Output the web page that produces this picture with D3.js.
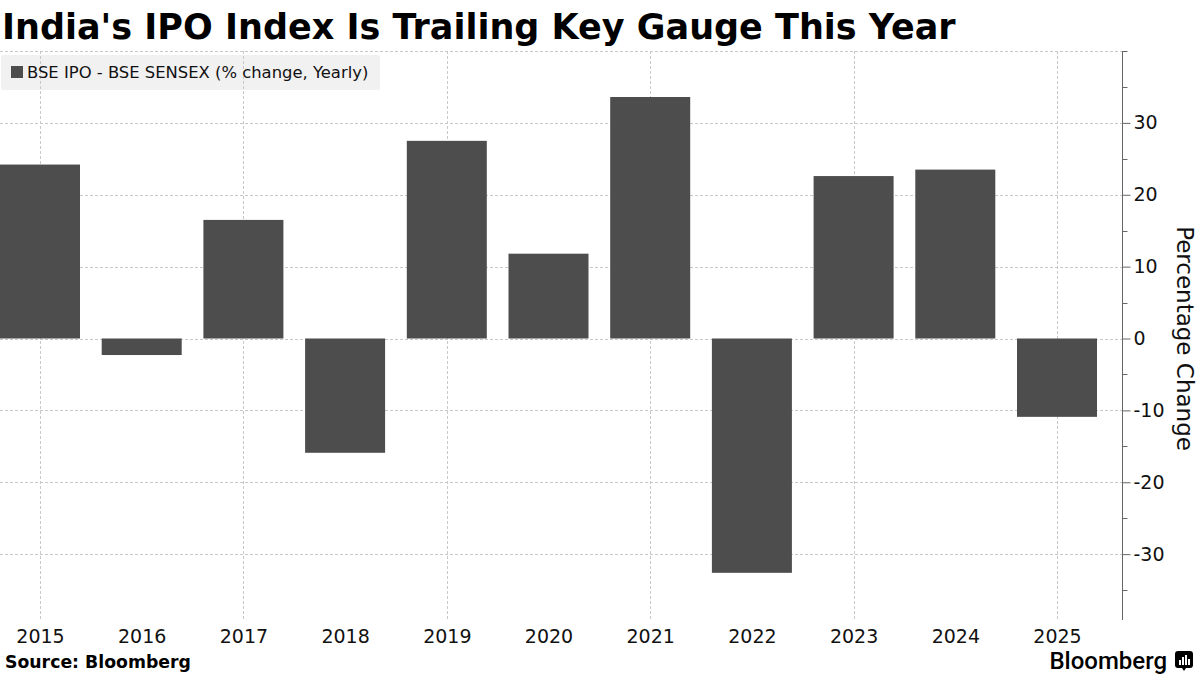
<!DOCTYPE html>
<html>
<head>
<meta charset="utf-8">
<script src="https://cdn.jsdelivr.net/npm/d3@7"></script>
<style>
  body { margin: 0; background: #fff; }
  svg { display: block; }
</style>
</head>
<body>
<div id="chart-area"></div>
<script>
/*
*    IPO index vs Sensex, yearly
*/

var years = ["2015", "2016", "2017", "2018", "2019", "2020", "2021", "2022", "2023", "2024", "2025"];
var values = [24.2, -2.3, 16.5, -15.9, 27.5, 11.8, 33.6, -32.6, 22.6, 23.5, -10.9];
var yTicks = [-30, -20, -10, 0, 10, 20, 30];
var gridTicks = [-30, -20, -10, 0, 10, 20, 30, 40];
var minorTicks = [-35, -25, -15, -5, 5, 15, 25, 35, 40];
var gridYears = ["2015", "2017", "2019", "2021", "2023", "2025"];

var W = 1200, H = 675;
var barColor = "#4d4d4d";
var font = "'DejaVu Sans', Verdana, sans-serif";

var svg = d3.select("#chart-area").append("svg")
    .attr("width", W)
    .attr("height", H);

var x = d3.scalePoint()
    .domain(years)
    .range([40, 1057]);

var y = d3.scaleLinear()
    .domain([-40, 40])
    .range([626, 51]);

var barW = 80;
var axisX = 1122;
var plotBottom = 620;

// title
svg.append("text")
    .attr("x", 2)
    .attr("y", 39)
    .attr("font-family", font)
    .attr("font-weight", "bold")
    .attr("font-size", "35px")
    .attr("fill", "#000")
    .text("India's IPO Index Is Trailing Key Gauge This Year");

// legend background (under grid)
svg.append("rect")
    .attr("x", 1)
    .attr("y", 55)
    .attr("width", 379)
    .attr("height", 35)
    .attr("rx", 2)
    .attr("fill", "#f1f1f1");

// horizontal grid
svg.append("g")
    .selectAll("line")
    .data(gridTicks)
    .enter()
    .append("line")
        .attr("x1", 0)
        .attr("x2", axisX)
        .attr("y1", (d)=>{return Math.round(y(d)) + 0.5;})
        .attr("y2", (d)=>{return Math.round(y(d)) + 0.5;})
        .attr("stroke", "#c8c8c8")
        .attr("stroke-width", 1)
        .attr("stroke-dasharray", "3,2");

// vertical grid
svg.append("g")
    .selectAll("line")
    .data(gridYears)
    .enter()
    .append("line")
        .attr("x1", (d)=>{return Math.round(x(d)) + 0.5;})
        .attr("x2", (d)=>{return Math.round(x(d)) + 0.5;})
        .attr("y1", y(40))
        .attr("y2", plotBottom)
        .attr("stroke", "#c8c8c8")
        .attr("stroke-width", 1)
        .attr("stroke-dasharray", "3,2");

// bars
svg.append("g")
    .selectAll("rect")
    .data(values)
    .enter()
    .append("rect")
        .attr("x", (d, i)=>{return x(years[i]) - barW / 2;})
        .attr("y", (d)=>{return y(Math.max(0, d));})
        .attr("width", barW)
        .attr("height", (d)=>{return Math.abs(y(d) - y(0));})
        .attr("fill", barColor);

// legend
svg.append("rect")
    .attr("x", 11)
    .attr("y", 66)
    .attr("width", 12)
    .attr("height", 12)
    .attr("fill", barColor);

svg.append("text")
    .attr("x", 27)
    .attr("y", 78)
    .attr("font-family", font)
    .attr("font-size", "16.4px")
    .attr("fill", "#111")
    .text("BSE IPO - BSE SENSEX (% change, Yearly)");

// right axis
var right = d3.axisRight(y)
    .tickValues(yTicks)
    .tickSize(8)
    .tickPadding(3)
    .tickFormat((d)=>{return d < 0 ? "-" + Math.abs(d) : "" + d;});

var axisG = svg.append("g")
    .attr("class", "right axis")
    .attr("transform", "translate(" + (axisX + 0.5) + ",0)")
    .call(right);

axisG.select(".domain")
    .attr("d", "M0," + y(40) + "V" + plotBottom)
    .attr("stroke", "#666");
axisG.selectAll(".tick line").attr("stroke", "#666");
axisG.selectAll("text")
    .attr("font-family", font)
    .attr("font-size", "19px")
    .attr("fill", "#111");

axisG.selectAll(".minor")
    .data(minorTicks)
    .enter()
    .append("line")
        .attr("class", "minor")
        .attr("x1", 0)
        .attr("x2", 5)
        .attr("y1", (d)=>{return Math.round(y(d)) + 0.5;})
        .attr("y2", (d)=>{return Math.round(y(d)) + 0.5;})
        .attr("stroke", "#666");

svg.append("text")
    .attr("transform", "translate(1177," + y(0) + ") rotate(90)")
    .attr("text-anchor", "middle")
    .attr("font-family", font)
    .attr("font-size", "23px")
    .attr("fill", "#111")
    .text("Percentage Change");

// bottom labels
var bottom = d3.axisBottom(x)
    .tickSize(0)
    .tickPadding(0);

var bottomG = svg.append("g")
    .attr("class", "bottom axis")
    .attr("transform", "translate(0,626)")
    .call(bottom);

bottomG.select(".domain").remove();
bottomG.selectAll("text")
    .attr("dy", "0")
    .attr("y", 17)
    .attr("font-family", font)
    .attr("font-size", "19px")
    .attr("fill", "#111");

// footer
svg.append("text")
    .attr("x", 5)
    .attr("y", 668)
    .attr("font-family", font)
    .attr("font-weight", "bold")
    .attr("font-size", "17.3px")
    .attr("fill", "#000")
    .text("Source: Bloomberg");

svg.append("text")
    .attr("x", 1167)
    .attr("y", 669)
    .attr("text-anchor", "end")
    .attr("font-family", "Roboto, 'Noto Sans', sans-serif")
    .attr("font-weight", 500)
    .attr("font-size", "24px")
    .attr("fill", "#000")
    .text("Bloomberg");

var logo = svg.append("g")
    .attr("transform", "translate(1175,651)");
logo.append("path")
    .attr("d", "M3,0H15Q18,0 18,3V14Q18,17 15,17H11L9,20L7,17H3Q0,17 0,14V3Q0,0 3,0Z")
    .attr("fill", "#000");
[[4, 9, 2, 5], [7, 6, 2, 8], [10, 4, 2, 10], [13, 8, 2, 6]].forEach((b)=>{
    logo.append("rect")
        .attr("x", b[0])
        .attr("y", b[1])
        .attr("width", b[2])
        .attr("height", b[3])
        .attr("fill", "#fff");
});
</script>
</body>
</html>
